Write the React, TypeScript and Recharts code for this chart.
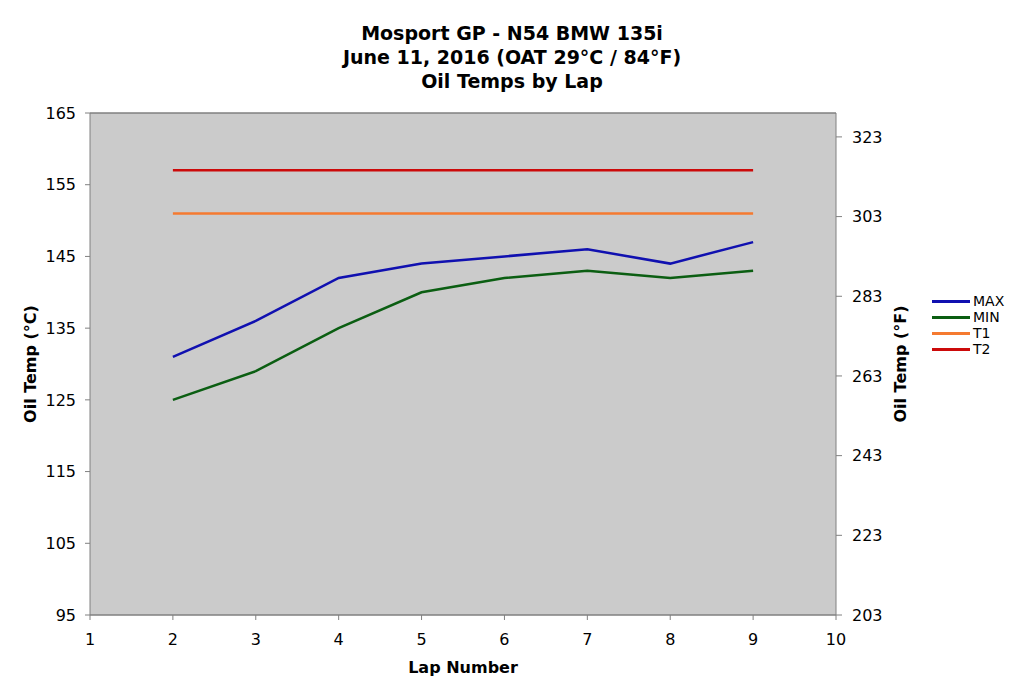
import React from 'react';
import {
  LineChart, Line, XAxis, YAxis, CartesianGrid, ReferenceLine
} from 'recharts';

const laps = [2, 3, 4, 5, 6, 7, 8, 9];
const maxTemps = [131, 136, 142, 144, 145, 146, 144, 147];
const minTemps = [125, 129, 135, 140, 142, 143, 142, 143];
const t1Temps = [151, 151, 151, 151, 151, 151, 151, 151];
const t2Temps = [157, 157, 157, 157, 157, 157, 157, 157];

const lapTicks = [1, 2, 3, 4, 5, 6, 7, 8, 9, 10];
const celsiusTicks = [95, 105, 115, 125, 135, 145, 155, 165];
const fahrenheitTicks = [203, 223, 243, 263, 283, 303, 323];

const titleLines = ['Mosport GP - N54 BMW 135i', 'June 11, 2016 (OAT 29°C / 84°F)', 'Oil Temps by Lap'];

const series = [
  { key: 'MAX', color: '#1010B0' },
  { key: 'MIN', color: '#0B5E12' },
  { key: 'T1', color: '#F57A30' },
  { key: 'T2', color: '#CC0A0A' },
];

const data = laps.map((lap, i) => ({
  lap,
  MAX: maxTemps[i],
  MIN: minTemps[i],
  T1: t1Temps[i],
  T2: t2Temps[i],
}));

const font = '"DejaVu Sans", Verdana, sans-serif';
const tickStyle = { fontSize: 16, fill: '#000', fontFamily: font };
const axisLine = { stroke: '#808080' };
const labelStyle = { textAnchor: 'middle', fontSize: 16, fontWeight: 'bold', fill: '#000', fontFamily: font };

const App: React.FC = () => {
  return (
    <div style={{ position: 'relative', width: 1008, height: 676, fontFamily: font }}>
      <div
        style={{
          position: 'absolute', left: 0, width: 1008, top: 13,
          textAlign: 'center', fontWeight: 'bold', fontSize: 19, lineHeight: '24px',
        }}
      >
        {titleLines.map((t) => (
          <div key={t}>{t}</div>
        ))}
      </div>
      <LineChart
        width={1008}
        height={676}
        data={data}
        margin={{ top: 105, right: 100, bottom: 9, left: 0 }}
      >
        <CartesianGrid vertical={false} stroke="#808080" fill="#CBCBCB" />
        <XAxis
          dataKey="lap"
          type="number"
          domain={[1, 10]}
          ticks={lapTicks}
          interval={0}
          height={60}
          tick={tickStyle}
          tickSize={5}
          tickMargin={14}
          axisLine={axisLine}
          tickLine={axisLine}
          label={{ value: 'Lap Number', position: 'insideBottom', offset: 2, style: labelStyle }}
        />
        <YAxis
          yAxisId="left"
          type="number"
          domain={[95, 165]}
          ticks={celsiusTicks}
          interval={0}
          width={82}
          tick={tickStyle}
          tickSize={5}
          tickMargin={9}
          axisLine={axisLine}
          tickLine={axisLine}
          label={{ value: 'Oil Temp (°C)', angle: -90, position: 'insideLeft', offset: 22, style: labelStyle }}
        />
        <YAxis
          yAxisId="right"
          orientation="right"
          type="number"
          domain={[203, 329]}
          allowDataOverflow
          ticks={fahrenheitTicks}
          interval={0}
          width={80}
          tick={tickStyle}
          tickSize={6}
          tickMargin={10}
          axisLine={axisLine}
          tickLine={axisLine}
          label={{ value: 'Oil Temp (°F)', angle: -90, position: 'insideRight', offset: 16, style: labelStyle }}
        />
        <ReferenceLine yAxisId="left" y={165} stroke="#808080" />
        {series.map((s) => (
          <Line
            key={s.key}
            yAxisId="left"
            type="linear"
            dataKey={s.key}
            stroke={s.color}
            strokeWidth={2.5}
            dot={false}
            isAnimationActive={false}
          />
        ))}
      </LineChart>
      <div style={{ position: 'absolute', left: 924, top: 285, fontSize: 14, lineHeight: '16px' }}>
        {series.map((s) => (
          <div key={s.key} style={{ display: 'flex', alignItems: 'center' }}>
            <span style={{ display: 'inline-block', width: 38, height: 3, background: s.color, marginRight: 3 }} />
            <span>{s.key}</span>
          </div>
        ))}
      </div>
    </div>
  );
};

export default App;
